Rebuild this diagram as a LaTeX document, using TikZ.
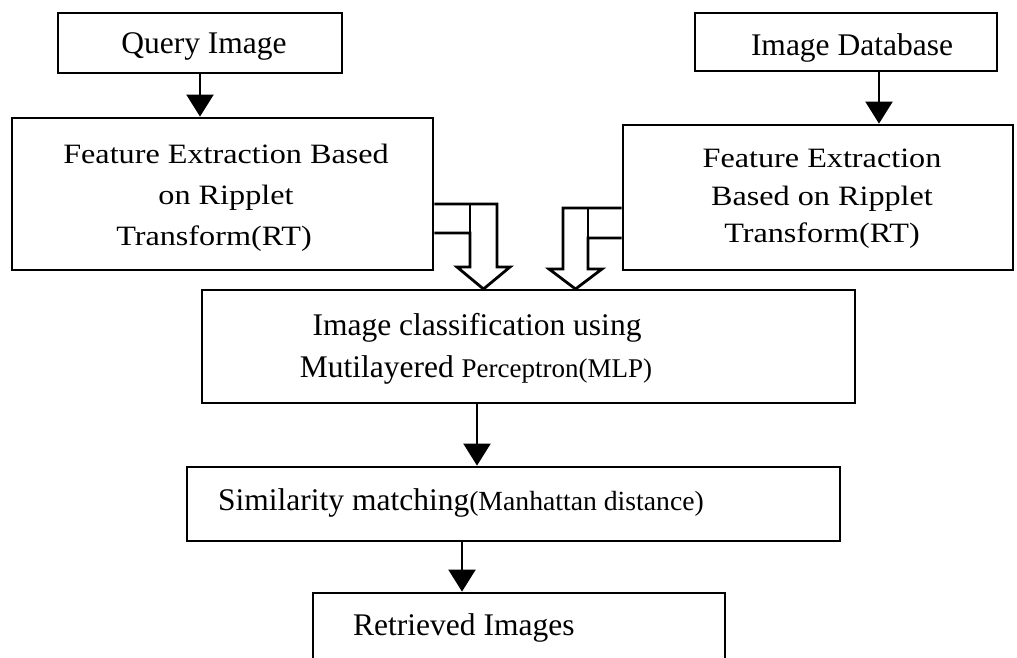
\documentclass[tikz,border=0pt]{standalone}
\usepackage{fontspec}
\setmainfont{Liberation Serif}
\newfontfamily\featfont{Liberation Serif}[FakeStretch=1.15]
\usetikzlibrary{arrows.meta}
\begin{document}
\begin{tikzpicture}[x=1pt,y=-1pt,
  box/.style={draw, line width=2.8pt, inner sep=0pt, anchor=center},
  txt/.style={inner sep=0pt, anchor=base},
  arr/.style={line width=2.2pt, -{Triangle[width=27pt,length=22pt]}},
  blk/.style={draw, line width=2.8pt, line join=miter, fill=white},
  big/.style={font=\fontsize{31.5}{38}\selectfont},
  feat/.style={font=\fontsize{28}{34}\featfont}]
\clip (0,0) rectangle (1017,657);
\fill[white] (0,0) rectangle (1017,657);
% boxes
\node[box, minimum width=284pt, minimum height=60pt] (query) at (200,43) {};
\node[box, minimum width=302pt, minimum height=58pt] (db) at (846,42) {};
\node[box, minimum width=421pt, minimum height=152pt] (lfeat) at (222.5,194) {};
\node[box, minimum width=390pt, minimum height=145pt] (rfeat) at (818,197.5) {};
\node[box, minimum width=653pt, minimum height=113pt] (mlp) at (528.5,346.5) {};
\node[box, minimum width=653pt, minimum height=74pt] (sim) at (513.5,504) {};
\node[box, minimum width=412pt, minimum height=107pt] (ret) at (519,646.5) {};
% texts
\node[txt, big] (q1) at (204,53) {Query Image};
\node[txt, big] (d1) at (852,55) {Image Database};
\node[txt, feat] (lf1) at (226,163) {Feature Extraction Based};
\node[txt, feat] (lf2) at (226,204) {on Ripplet};
\node[txt, feat] (lf3) at (214,245) {Transform(RT)};
\node[txt, feat] (rf1) at (822,167) {Feature Extraction};
\node[txt, feat] (rf2) at (822,205) {Based on Ripplet};
\node[txt, feat] (rf3) at (822,242) {Transform(RT)};
\node[txt, big] (m1) at (477,335) {Image classification using};
\node[txt, big] (m2) at (476,377) {Mutilayered {\fontsize{27}{32}\selectfont Perceptron(MLP)}};
\node[txt, big] (s1) at (461,510) {Similarity matching{\fontsize{27.7}{32}\selectfont(Manhattan distance)}};
\node[txt, big, anchor=base west] (r1) at (353,635) {Retrieved Images};
% connectors
\draw[arr] (query.south) -- (query.south |- lfeat.north);
\draw[arr] ([xshift=33pt]db.south) -- ([xshift=33pt]db.south |- rfeat.north);
\draw[arr] ([xshift=-51.5pt]mlp.south) -- ([xshift=-51.5pt]mlp.south |- sim.north);
\draw[arr] ([xshift=-51.5pt]sim.south) -- ([xshift=-51.5pt]sim.south |- ret.north);
% block arrows into the MLP box
\draw[blk] (lfeat.east |- 0,204) -- (497,204) -- (497,267) -- (510,267) -- (483.5,289)
  -- (457,267) -- (470,267) -- (470,233) -- (lfeat.east |- 0,233);
\draw[line width=2.8pt] (470,204) -- (470,233);
\draw[blk] (rfeat.west |- 0,208) -- (563,208) -- (563,269) -- (549,269) -- (575.5,289)
  -- (602,269) -- (588,269) -- (588,238) -- (rfeat.west |- 0,238);
\draw[line width=2.8pt] (588,208) -- (588,238);
\end{tikzpicture}
\end{document}
